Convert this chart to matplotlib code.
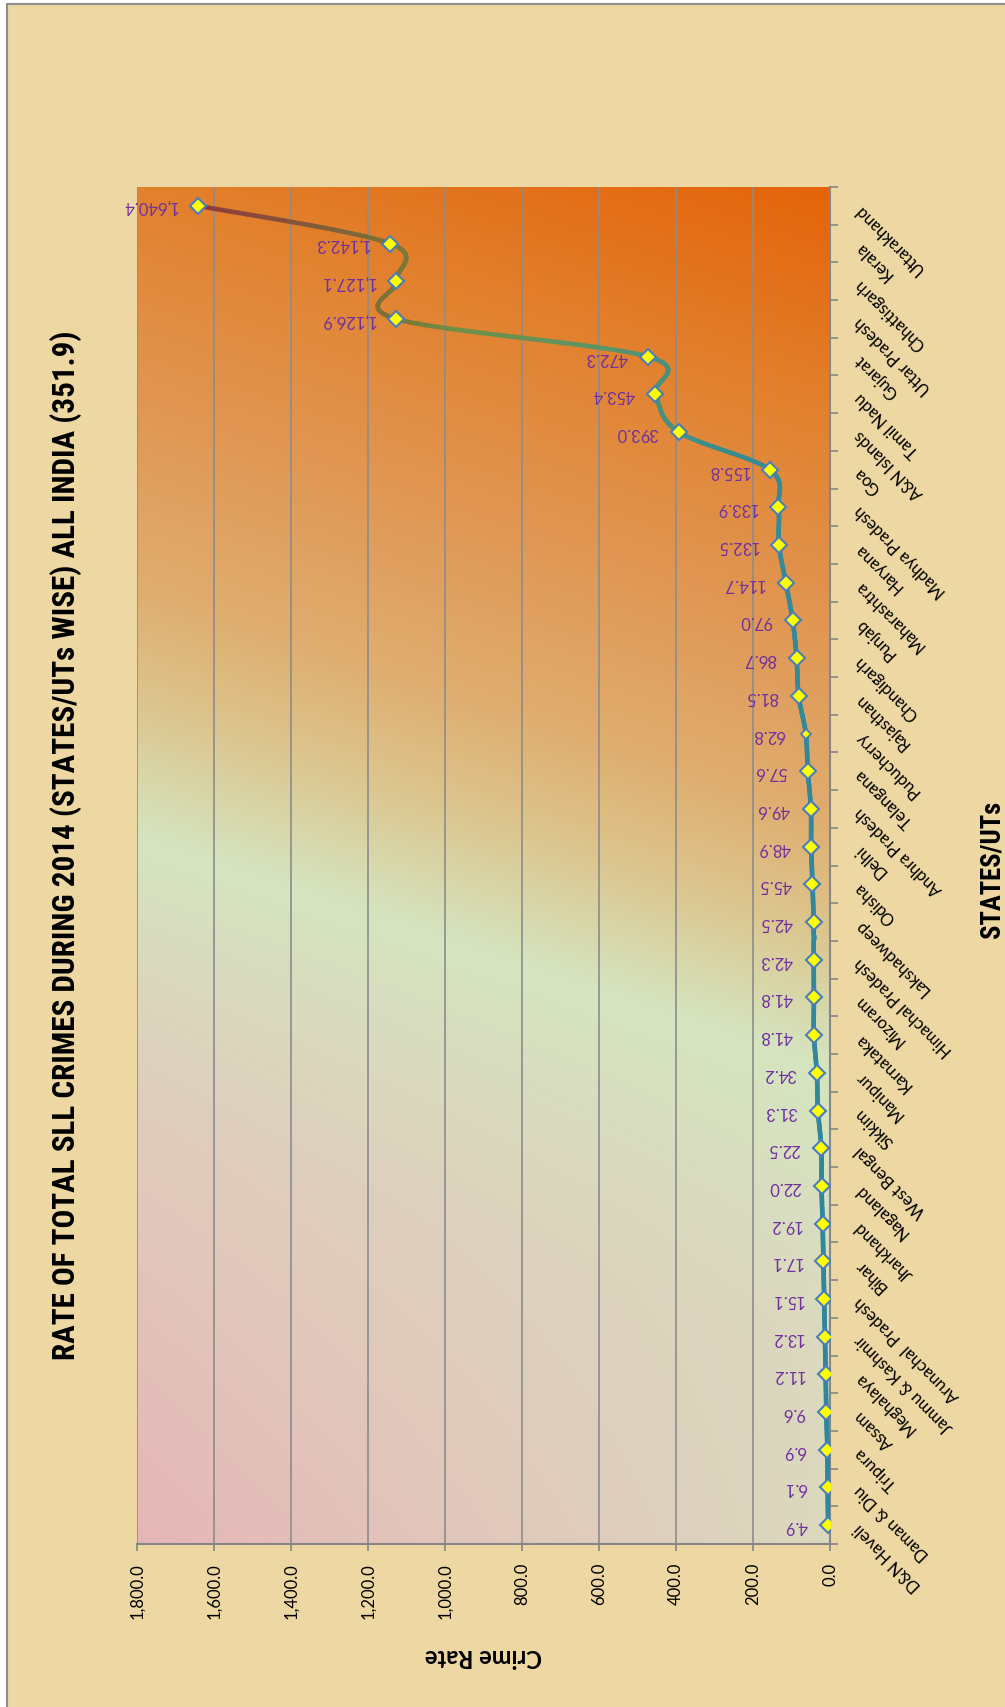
import numpy as np
import matplotlib
matplotlib.use("Agg")
import matplotlib.pyplot as plt
from matplotlib import font_manager
from matplotlib.collections import LineCollection
from matplotlib.colors import LinearSegmentedColormap, to_rgb
from matplotlib.patches import Rectangle

# Data, bottom (first) to top (last) as drawn in the picture
states = ["D&N Haveli", "Daman & Diu", "Tripura", "Assam", "Meghalaya",
          "Jammu & Kashmir", "Arunachal  Pradesh", "Bihar", "Jharkhand",
          "Nagaland", "West Bengal", "Sikkim", "Manipur", "Karnataka",
          "Mizoram", "Himachal Pradesh", "Lakshadweep", "Odisha", "Delhi",
          "Andhra Pradesh", "Telangana", "Puducherry", "Rajasthan",
          "Chandigarh", "Punjab", "Maharashtra", "Haryana", "Madhya Pradesh",
          "Goa", "A&N Islands", "Tamil Nadu", "Gujarat", "Uttar Pradesh",
          "Chhattisgarh", "Kerala", "Uttarakhand"]
rates = [4.9, 6.1, 6.9, 9.6, 11.2, 13.2, 15.1, 17.1, 19.2, 22.0, 22.5, 31.3,
         34.2, 41.8, 41.8, 42.3, 42.5, 45.5, 48.9, 49.6, 57.6, 62.8, 81.5,
         86.7, 97.0, 114.7, 132.5, 133.9, 155.8, 393.0, 453.4, 472.3,
         1126.9, 1127.1, 1142.3, 1640.4]
value_ticks = [0, 200, 400, 600, 800, 1000, 1200, 1400, 1600, 1800]

title = "RATE OF TOTAL SLL CRIMES DURING 2014 (STATES/UTs WISE) ALL INDIA (351.9)"
x_title = "STATES/UTs"
y_title = "Crime Rate"

# fonts
installed = {f.name for f in font_manager.fontManager.ttflist}
def pick(*names):
    for n in names:
        if n in installed:
            return n
    return "DejaVu Sans"
narrow = pick("Liberation Sans Narrow", "DejaVu Sans Condensed", "Roboto Condensed",
              "Open Sans Condensed", "Liberation Sans")
body = pick("Lato", "DejaVu Sans")

W, H = 1005, 1708
fig = plt.figure(figsize=(W / 100, H / 100), dpi=100, facecolor="white")
fig.patches.append(Rectangle((7 / W, -0.02), 1.05, 1.02 - 5 / H, transform=fig.transFigure,
                             facecolor="#EDD8A4", edgecolor="#8E8E8E", lw=1.5, zorder=-5))

ax = fig.add_axes([137 / W, 1 - 1545 / H, 693 / W, 1357 / H])
ax.set_facecolor("none")

# plot area gradient: orange (top right) -> green band -> cream, pink toward bottom left
band = 0.556
upper = LinearSegmentedColormap.from_list("up", [
    (0.0, "#E4640A"), (0.145 / band, "#E2812E"), (0.30 / band, "#E09A58"),
    (0.40 / band, "#DFAE70"), (0.47 / band, "#DCC58E"), (1.0, "#D5E5C0")])
u = np.linspace(0, 1, 300)[None, :]
v = np.linspace(0, 1, 300)[:, None]
s = (v - 0.17 * u + 0.17) / 1.17
img = upper(np.clip(s / band, 0, 1))[:, :, :3]
p = np.clip((s - band) / (1 - band), 0, 1)[:, :, None]
green, cream, pink = (np.array(to_rgb(c)) for c in ("#D5E5C0", "#DBDABF", "#E6B6B8"))
lower = green + (cream - green) * np.clip(p / 0.4, 0, 1)
pinkness = p * (1 - u[:, :, None]) ** 0.7
lower = lower + (pink - lower) * pinkness
img = np.where(s[:, :, None] > band, lower, img)
ax.imshow(img, extent=[0, 1, 0, 1], transform=ax.transAxes, origin="upper",
          aspect="auto", zorder=-1, interpolation="bilinear")

idx = np.arange(len(states))
vals = np.array(rates)

# smoothed line (Excel style), computed in pixel proportions
sx, sy = 693 / 1800, 1357 / 36
pts = np.column_stack([vals * sx, idx * sy])
P = np.vstack([pts[0], pts, pts[-1]])
curve = []
t = np.linspace(0, 1, 24, endpoint=False)[:, None]
for i in range(1, len(P) - 2):
    p0, p1, p2, p3 = P[i - 1], P[i], P[i + 1], P[i + 2]
    c1 = p1 + (p2 - p0) / 6
    c2 = p2 - (p3 - p1) / 6
    curve.append((1 - t) ** 3 * p1 + 3 * (1 - t) ** 2 * t * c1 + 3 * (1 - t) * t ** 2 * c2 + t ** 3 * p2)
curve.append(pts[-1:])
curve = np.vstack(curve)
curve = np.column_stack([curve[:, 0] / sx, curve[:, 1] / sy])
segs = np.stack([curve[:-1], curve[1:]], axis=1)
line_cmap = LinearSegmentedColormap.from_list("ln", [
    (0.0, "#2F879C"), (0.2, "#3C8E8E"), (0.35, "#5A9468"), (0.6, "#6F8F45"),
    (0.69, "#7A7437"), (1.0, "#8E3A3A")])
lc = LineCollection(segs, colors=line_cmap(segs[:, :, 0].mean(axis=1) / 1640.4),
                    linewidths=3.3, capstyle="round", joinstyle="round", zorder=3)
ax.add_collection(lc)

small = states.index("Puducherry")
big = [i for i in idx if i != small]
ax.plot(vals[big], idx[big], "D", ms=8.6, mfc="#FFFF00", mec="#4A7EBB", mew=1.5, zorder=4)
ax.plot(vals[small], idx[small], "D", ms=5.3, mfc="#FFFF00", mec="#4A7EBB", mew=1.3, zorder=4)

for i, r in enumerate(rates):
    ax.annotate(f"{r:,.1f}", (r, i), xytext=(-15, 0), textcoords="offset points",
                rotation=180, rotation_mode="anchor", ha="left", va="center",
                color="#7030A0", fontsize=12, family=body, zorder=5)

ax.set_xlim(1800, 0)
ax.set_ylim(-0.5, len(states) - 0.5)

ax.set_xticks(value_ticks)
ax.set_xticklabels([f"{v:,.1f}" for v in value_ticks], rotation=90, fontsize=12, family=body)
ax.tick_params(axis="x", direction="out", length=5, width=1.2, color="#868686", pad=8)
ax.xaxis.grid(True, color="#8C8C8C", lw=1.2)
ax.set_axisbelow(True)

ax.yaxis.tick_right()
ax.set_yticks(np.arange(-0.5, len(states), 1))
ax.set_yticklabels([])
ax.tick_params(axis="y", direction="out", length=6, width=1.2, color="#868686")
for i, name in enumerate(states):
    ax.text(1 + 27 / 693, i, name, transform=ax.get_yaxis_transform(), rotation=135,
            rotation_mode="anchor", ha="right", va="center", fontsize=12, family=body)

for side in ["left", "top"]:
    ax.spines[side].set_visible(False)
for side in ["right", "bottom"]:
    ax.spines[side].set_color("#868686")
    ax.spines[side].set_linewidth(1.5)

t1 = fig.text(66 / W, 1 - 845 / H, title, rotation=90, ha="center", va="center",
              fontsize=20, fontweight="bold", family=narrow)
t2 = fig.text(992 / W, 1 - 869 / H, x_title, rotation=90, ha="center", va="center",
              fontsize=16, fontweight="bold", family=narrow)
fig.text(483 / W, 1 - 1657 / H, y_title, rotation=180, ha="center", va="center",
         fontsize=17, fontweight="bold", family=body)

# fit the condensed headings to their length in the picture
fig.canvas.draw()
rend = fig.canvas.get_renderer()
for txt, target in [(t1, 1030), (t2, 138)]:
    h = txt.get_window_extent(rend).height
    txt.set_fontsize(txt.get_fontsize() * target / h)

fig.savefig("out.png", dpi=100)
